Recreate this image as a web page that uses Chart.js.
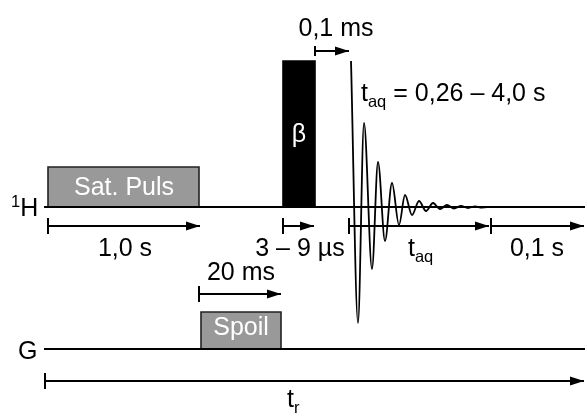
<!DOCTYPE html>
<html>
<head>
<meta charset="utf-8">
<script src="https://cdn.jsdelivr.net/npm/chart.js@4/dist/chart.umd.min.js"></script>
<style>
  html, body { margin: 0; padding: 0; background: #fff; }
  #seq { display: block; }
</style>
</head>
<body>
<canvas id="seq" width="585" height="413"></canvas>
<script>
// time axis (diagram units) and levels of the two channels
const channelNames = ['H', 'G'];
const channelLevel = [207, 349];
const channelStart = [44, 44];
const channelEnd = [585, 585];

// pulses : Sat. Puls, beta, Spoil
const pulseNames = ['Sat. Puls', 'β', 'Spoil'];
const pulseStart = [48, 283, 201];
const pulseEnd = [199, 315, 281];
const pulseTop = [167, 61, 312];
const pulseBase = [207, 207, 349];

const fidT = [351, 358, 364, 372, 378, 385, 392, 399, 405, 412, 419, 426, 433, 440, 447, 454, 461, 468, 475, 482, 490];
const fidA = [61, 323, 123, 269, 162, 241, 183, 225, 195, 215, 201, 211, 203, 209, 205, 208.5, 206, 208, 206.5, 207.5, 207];

// timing arrows
const arrowNames = ['1,0 s', '3 – 9 µs', 't_aq', '0,1 s', '0,1 ms', '20 ms', 't_r'];
const arrowFrom = [48, 283, 349, 491, 315, 199, 45];
const arrowTo = [201, 315, 490, 585, 350, 282, 585];
const arrowAt = [226, 226, 226, 226, 51, 294, 381];

const ctx = document.getElementById('seq');
const FONT = '"Liberation Sans", Arial, sans-serif';

// arrow head as a point image, tip sits on the centre
const head = document.createElement('canvas');
head.width = 30; head.height = 10;
const hc = head.getContext('2d');
hc.fillStyle = '#000';
hc.beginPath();
hc.moveTo(1, 0.5); hc.lineTo(15, 5); hc.lineTo(1, 9.5); hc.closePath();
hc.fill();

const datasets = [];

channelNames.forEach((n, i) => {
  datasets.push({
    label: n,
    data: [{x: channelStart[i], y: channelLevel[i]}, {x: channelEnd[i], y: channelLevel[i]}],
    showLine: true, borderColor: '#000', borderWidth: 2.2, pointRadius: 0
  });
});

pulseNames.forEach((n, i) => {
  const dark = n === 'β';
  datasets.push({
    label: n,
    data: [
      {x: pulseStart[i], y: pulseBase[i]}, {x: pulseStart[i], y: pulseTop[i]},
      {x: pulseEnd[i], y: pulseTop[i]}, {x: pulseEnd[i], y: pulseBase[i]}
    ],
    showLine: true,
    fill: {value: pulseBase[i]},
    backgroundColor: dark ? '#000' : '#999',
    borderColor: dark ? '#000' : '#222',
    borderWidth: 1.6,
    borderJoinStyle: 'miter',
    pointRadius: 0
  });
});

datasets.push({
  label: 'FID',
  data: fidT.map((t, i) => ({x: t, y: fidA[i]})),
  showLine: true, borderColor: '#000', borderWidth: 1.8,
  cubicInterpolationMode: 'monotone', pointRadius: 0
});

arrowNames.forEach((n, i) => {
  const small = n === '0,1 ms';
  datasets.push({
    label: n,
    data: [{x: arrowFrom[i], y: arrowAt[i]}, {x: arrowTo[i] - 1, y: arrowAt[i]}],
    showLine: true, borderColor: '#000', borderWidth: 2,
    pointStyle: ['line', head],
    pointRotation: [90, 0],
    pointRadius: [small ? 5 : 8, 6],
    pointBorderWidth: 2,
    pointBorderColor: '#000',
    pointBackgroundColor: '#000'
  });
});

// text: [text, 'sub'|'sup'|''], with where it goes
const labels = [
  {parts: [['Sat. Puls']], x: 124, y: 195, color: '#fff', align: 'center'},
  {parts: [['β']], x: 299, y: 142, color: '#fff', align: 'center'},
  {parts: [['Spoil']], x: 241, y: 335, color: '#fff', align: 'center'},
  {parts: [['1,0 s']], x: 125, y: 256, align: 'center'},
  {parts: [['3 – 9 µs']], x: 300, y: 256, align: 'center'},
  {parts: [['t'], ['aq', 'sub']], x: 408, y: 256, align: 'left'},
  {parts: [['0,1 s']], x: 537, y: 256, align: 'center'},
  {parts: [['0,1 ms']], x: 336, y: 36, align: 'center'},
  {parts: [['t'], ['aq', 'sub'], [' = 0,26 – 4,0 s']], x: 361, y: 101, align: 'left'},
  {parts: [['20 ms']], x: 241, y: 280, align: 'center'},
  {parts: [['1', 'sup'], ['H']], x: 11, y: 216, align: 'left'},
  {parts: [['G']], x: 18, y: 359, align: 'left'},
  {parts: [['t'], ['r', 'sub']], x: 287, y: 407, align: 'left'}
];

const textPlugin = {
  id: 'seqText',
  afterDatasetsDraw(chart) {
    const c = chart.ctx;
    const sx = chart.scales.x, sy = chart.scales.y;
    c.save();
    c.textBaseline = 'alphabetic';
    c.textAlign = 'left';
    labels.forEach(l => {
      const fonts = l.parts.map(p => (p[1] ? 16.5 : 25) + 'px ' + FONT);
      let w = 0;
      l.parts.forEach((p, k) => { c.font = fonts[k]; w += c.measureText(p[0]).width; });
      let px = sx.getPixelForValue(l.x);
      const py = sy.getPixelForValue(l.y);
      if (l.align === 'center') px -= w / 2;
      c.fillStyle = l.color || '#000';
      l.parts.forEach((p, k) => {
        c.font = fonts[k];
        const dy = p[1] === 'sub' ? 6 : p[1] === 'sup' ? -9 : 0;
        c.fillText(p[0], px, py + dy);
        px += c.measureText(p[0]).width;
      });
    });
    c.restore();
  }
};

new Chart(ctx, {
  type: 'scatter',
  data: {datasets: datasets},
  options: {
    responsive: false,
    animation: false,
    events: [],
    layout: {padding: 0, autoPadding: false},
    plugins: {legend: {display: false}, tooltip: {enabled: false}},
    scales: {
      x: {type: 'linear', min: 0, max: 585, display: false},
      y: {type: 'linear', min: 0, max: 413, reverse: true, display: false}
    }
  },
  plugins: [textPlugin]
});
</script>
</body>
</html>
